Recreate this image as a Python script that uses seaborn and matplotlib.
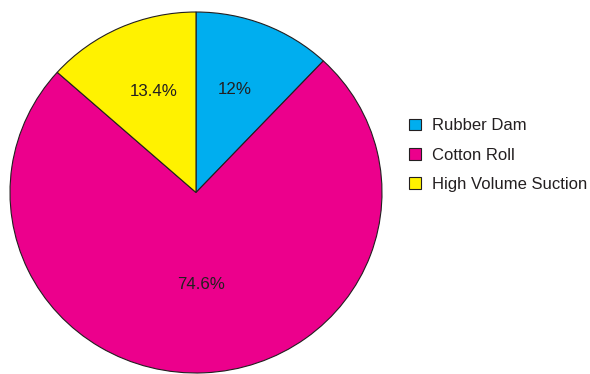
import matplotlib
matplotlib.use("Agg")
import matplotlib.pyplot as plt
import seaborn as sns
import numpy as np

categories = ["Rubber Dam", "Cotton Roll", "High Volume Suction"]
values = [12.0, 74.6, 13.4]
labels_pct = ["12%", "74.6%", "13.4%"]
colors = ["#00AEEF", "#EC008C", "#FFF200"]

sns.set_theme(style="white")
plt.rcParams['font.family'] = ['Liberation Sans', 'DejaVu Sans']

fig = plt.figure(figsize=(5.90, 3.74), dpi=100)
ax = fig.add_axes([10/590, 1/374, 372/590, 361/374])

wedges, texts = ax.pie(values, colors=colors, startangle=90, counterclock=False,
                       wedgeprops=dict(edgecolor="#231F20", linewidth=0.8),
                       labels=None)
y0 = 0.05
for w, lab in zip(wedges, labels_pct):
    mid = np.deg2rad((w.theta1 + w.theta2) / 2)
    r = 0.56
    ax.text(r*np.cos(mid), y0 + r*np.sin(mid), lab, ha="center", va="center",
            fontsize=12.2, color="#231F20")
ax.set_aspect("auto")
ax.set_xlim(-1.0, 1.0)
ax.set_ylim(-1.0, 1.0)
ax.axis("off")

leg = fig.legend(wedges, categories, loc="center left",
                 bbox_to_anchor=(409/590, 1-155/374), frameon=False,
                 fontsize=12, borderpad=0, borderaxespad=0,
                 handlelength=0.72, handleheight=0.72, handletextpad=0.65,
                 labelspacing=0.85)
for t in leg.get_texts():
    t.set_color("#231F20")
for h in leg.legend_handles:
    h.set_edgecolor("#231F20")
    h.set_linewidth(0.8)

fig.savefig("out.png", dpi=100)
